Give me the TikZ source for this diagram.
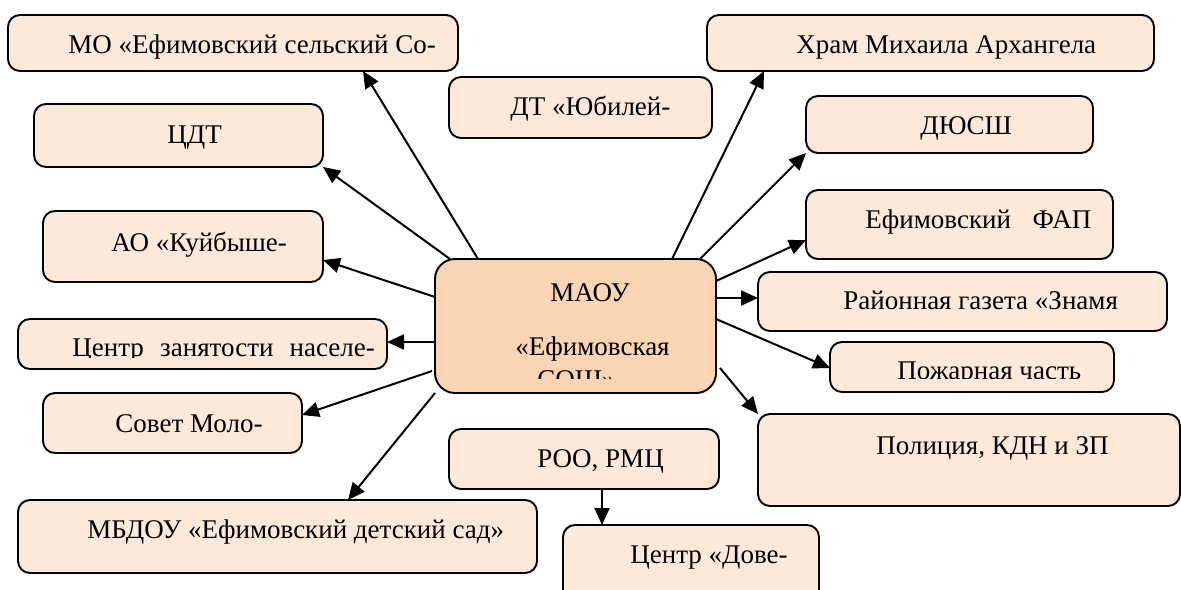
\documentclass[tikz,border=0pt]{standalone}
\usepackage{fontspec}
\setmainfont{Liberation Serif}
\usetikzlibrary{arrows.meta,calc,fit}
\definecolor{boxfill}{HTML}{FDE9D9}
\definecolor{mainfill}{HTML}{FBD4B4}
\tikzset{
  bx/.style={draw=black, line width=0.95pt, fill=boxfill, rounded corners=6pt, inner sep=0pt, outer sep=0pt},
  mainbx/.style={bx, fill=mainfill, rounded corners=10pt},
  txt/.style={font=\fontsize{13.5}{15}\selectfont, inner sep=0pt, anchor=base west},
  arr/.style={-{Triangle[length=8.5pt,width=7.5pt]}, line width=1pt},
}
\begin{document}
\begin{tikzpicture}[x=0.5pt,y=-0.5pt]
\useasboundingbox (0,0) rectangle (1181,589);
\clip (0,0) rectangle (1181,589);
% boxes
\node[bx, fit={(8,15) (458,71)}] (mo) {};
\node[bx, fit={(34,104) (323,167)}] (cdt) {};
\node[bx, fit={(449,77) (712,138)}] (dt) {};
\node[bx, fit={(707,15) (1154,71)}] (hram) {};
\node[bx, fit={(806,96) (1093,153)}] (dyussh) {};
\node[bx, fit={(806,190) (1113,259)}] (fap) {};
\node[bx, fit={(43,211) (323,282)}] (ao) {};
\node[bx, fit={(758,272) (1167,331)}] (gaz) {};
\node[bx, fit={(18,319) (387,369)}] (czn) {};
\node[bx, fit={(830,342) (1114,392)}] (pozh) {};
\node[bx, fit={(43,393) (302,453)}] (sovet) {};
\node[bx, fit={(758,414) (1180,506)}] (pol) {};
\node[bx, fit={(449,429) (719,489)}] (roo) {};
\node[bx, fit={(18,500) (537,573)}] (mbdou) {};
\node[bx, fit={(563,525) (819,605)}] (dov) {};
\node[mainbx, fit={(435,259) (716,393)}] (maou) {};
% texts
\node[txt] (tmo) at (68,53) {МО «Ефимовский сельский Со-};
\node[txt] (tcdt) at (167,143) {ЦДТ};
\node[txt] (tdt) at (510,115) {ДТ «Юбилей-};
\node[txt] (thram) at (796,53) {Храм Михаила Архангела};
\node[txt] (tdyussh) at (920,134) {ДЮСШ};
\node[txt] (tfap) at (865,228) {Ефимовский\hspace{0.8em}ФАП};
\node[txt] (tao) at (111,251) {АО «Куйбыше-};
\node[txt] (tgaz) at (843,309) {Районная газета «Знамя};
\node[txt] (tpol) at (876,454) {Полиция, КДН и ЗП};
\node[txt] (troo) at (537,467) {РОО, РМЦ};
\node[txt] (tsovet) at (115,432) {Совет Моло-};
\node[txt] (tmbdou) at (87,538) {МБДОУ «Ефимовский детский сад»};
\node[txt] (tdov) at (630,563) {Центр «Дове-};
\node[txt] (tmaou1) at (550,301) {МАОУ};
\node[txt] (tmaou2) at (515,355) {«Ефимовская};
\begin{scope}
  \clip (830,342) rectangle (1114,378);
  \node[txt] (tpozh) at (897,379) {Пожарная часть};
\end{scope}
\begin{scope}
  \clip (18,319) rectangle (387,357);
  \node[txt] (tczn) at (72,356) {Центр\hspace{0.6em}занятости\hspace{0.6em}населе-};
\end{scope}
\begin{scope}
  \clip (435,259) rectangle (716,378);
  \node[txt] (tmaou3) at (537,388) {СОШ»};
\end{scope}
% arrows
\draw[arr] ($(maou.north west)+(43,0)$) -- ($(mo.south west)+(355,0)$);
\draw[arr] ($(maou.north west)+(15,0)$) -- (cdt.south east);
\draw[arr] ($(maou.north west)+(0,38)$) -- ($(ao.north east)+(0,49)$);
\draw[arr] ($(maou.north west)+(0,83)$) -- ($(czn.north east)+(0,23)$);
\draw[arr] ($(maou.north west)+(-3,112)$) -- ($(sovet.north east)+(0,22)$);
\draw[arr] (maou.south west) -- ($(mbdou.north west)+(330,0)$);
\draw[arr] ($(maou.north east)+(-44,0)$) -- ($(hram.south west)+(57,0)$);
\draw[arr] ($(maou.north east)+(-16,0)$) -- (dyussh.south west);
\draw[arr] ($(maou.north east)+(0,22)$) -- ($(fap.north west)+(0,50)$);
\draw[arr] ($(maou.north east)+(0,39)$) -- ($(gaz.north west)+(0,26)$);
\draw[arr] ($(maou.north east)+(0,60)$) -- ($(pozh.north west)+(0,26)$);
\draw[arr] ($(maou.north east)+(4,109)$) -- (pol.north west);
\draw[arr] ($(roo.south west)+(153,0)$) -- ($(dov.north west)+(39,0)$);
\end{tikzpicture}
\end{document}
